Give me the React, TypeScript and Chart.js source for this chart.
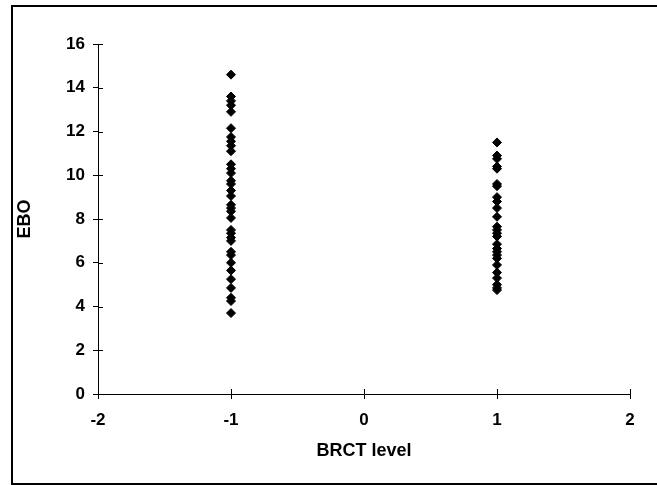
import React, { useEffect, useRef } from "react";
import { Chart, registerables } from "chart.js";

Chart.register(...registerables);

const lowValues: number[] = [
  14.6, 13.6, 13.4, 13.2, 12.9, 12.15, 11.75, 11.55, 11.35, 11.1, 10.5, 10.3,
  10.1, 9.75, 9.6, 9.3, 9.05, 8.65, 8.5, 8.35, 8.05, 7.5, 7.35, 7.15, 7.0, 6.5,
  6.35, 6.0, 5.65, 5.25, 4.85, 4.4, 4.25, 3.7,
];
const highValues: number[] = [
  11.5, 10.9, 10.75, 10.4, 10.3, 9.6, 9.5, 9.0, 8.8, 8.5, 8.1, 7.65, 7.5, 7.35,
  7.2, 6.85, 6.65, 6.5, 6.35, 6.2, 5.9, 5.55, 5.3, 5.0, 4.85, 4.75,
];
const lowLevel = -1;
const highLevel = 1;
const xTitle = "BRCT level";
const yTitle = "EBO";
const xRange = [-2, 2];
const yRange = [0, 16];

const FONT = "'Liberation Sans', Arial, sans-serif";

const innerTicks = {
  id: "innerTicks",
  afterDraw(chart: any) {
    const ctx = chart.ctx;
    const xs = chart.scales.x;
    const ys = chart.scales.y;
    ctx.save();
    ctx.strokeStyle = "#000";
    ctx.lineWidth = 1;
    ctx.beginPath();
    xs.ticks.forEach((t: any) => {
      const px = Math.round(xs.getPixelForValue(t.value)) + 0.5;
      ctx.moveTo(px, chart.chartArea.bottom);
      ctx.lineTo(px, chart.chartArea.bottom - 5);
    });
    ys.ticks.forEach((t: any) => {
      const py = Math.round(ys.getPixelForValue(t.value)) + 0.5;
      ctx.moveTo(chart.chartArea.left, py);
      ctx.lineTo(chart.chartArea.left + 5, py);
    });
    ctx.stroke();
    ctx.restore();
  },
};

export default function App() {
  const ref = useRef<HTMLCanvasElement | null>(null);
  useEffect(() => {
    if (!ref.current) return;
    const chart = new Chart(ref.current, {
      type: "scatter",
      data: {
        datasets: [
          {
            data: [
              ...lowValues.map((v) => ({ x: lowLevel, y: v })),
              ...highValues.map((v) => ({ x: highLevel, y: v })),
            ],
            pointStyle: "rectRot",
            pointRadius: 4.5,
            pointBorderWidth: 1,
            backgroundColor: "#000",
            borderColor: "#000",
          },
        ],
      },
      options: {
        animation: false,
        responsive: false,
        maintainAspectRatio: false,
        layout: { padding: { left: 0, top: 44, right: 27, bottom: 0 } },
        plugins: { legend: { display: false }, tooltip: { enabled: false } },
        scales: {
          x: {
            type: "linear",
            min: xRange[0],
            max: xRange[1],
            afterFit: (s: any) => {
              s.height = 91;
            },
            ticks: {
              stepSize: 1,
              color: "#000",
              padding: 11,
              font: { family: FONT, size: 17, weight: "bold" },
            },
            grid: {
              drawOnChartArea: false,
              drawTicks: true,
              tickLength: 5,
              color: "#000",
            },
            border: { display: true, color: "#000", width: 1 },
            title: {
              display: true,
              text: xTitle,
              color: "#000",
              padding: { top: 4, bottom: 23 },
              font: { family: FONT, size: 18, weight: "bold" },
            },
          },
          y: {
            type: "linear",
            min: yRange[0],
            max: yRange[1],
            afterFit: (s: any) => {
              s.width = 98;
            },
            ticks: {
              stepSize: 2,
              color: "#000",
              padding: 8,
              font: { family: FONT, size: 17, weight: "bold" },
            },
            grid: {
              drawOnChartArea: false,
              drawTicks: true,
              tickLength: 5,
              color: "#000",
            },
            border: { display: true, color: "#000", width: 1 },
            title: {
              display: true,
              text: yTitle,
              color: "#000",
              padding: { top: 14, bottom: 4 },
              font: { family: FONT, size: 18, weight: "bold" },
            },
          },
        },
      },
      plugins: [innerTicks],
    });
    return () => chart.destroy();
  }, []);

  return (
    <div
      style={{
        position: "absolute",
        left: 0,
        top: 0,
        width: 657,
        height: 485,
        background: "#fff",
        overflow: "hidden",
      }}
    >
      <canvas
        ref={ref}
        width={657}
        height={485}
        style={{ position: "absolute", left: 0, top: 0, width: 657, height: 485 }}
      />
      <div
        style={{
          position: "absolute",
          left: 11,
          top: 5,
          width: 660,
          height: 476,
          borderLeft: "2px solid #000",
          borderTop: "2px solid #000",
          borderBottom: "2px solid #000",
          pointerEvents: "none",
        }}
      />
    </div>
  );
}
